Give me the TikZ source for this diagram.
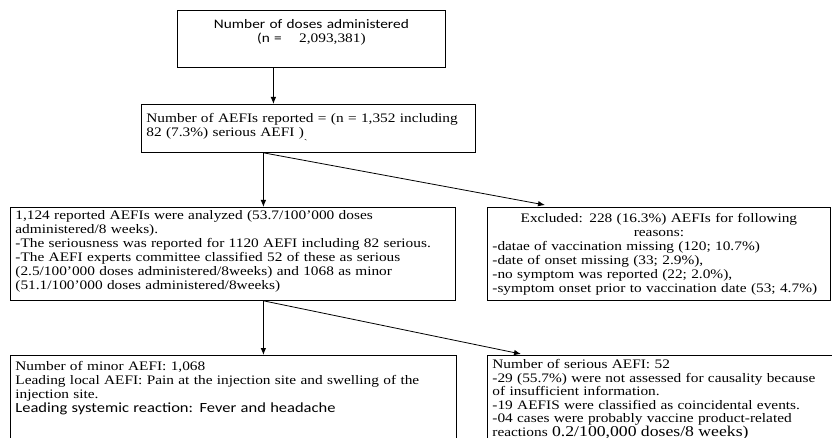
\documentclass[tikz,border=0pt]{standalone}
\usepackage{fontspec}
\setmainfont{Liberation Serif}[FakeStretch=1.18]
\newfontfamily\calibri{Carlito}[FakeStretch=1.18]
\usetikzlibrary{arrows.meta}

\begin{document}
\begin{tikzpicture}[x=1pt,y=-1pt,
  box/.style={draw, line width=0.8pt, anchor=north west, align=left,
    inner xsep=5pt, inner ysep=0pt, font=\fontsize{13}{14}\selectfont},
  arr/.style={-{Latex[length=7pt,width=5.5pt]}, line width=0.8pt}]
  \useasboundingbox (0,0) rectangle (832,438);
  \clip (0,0) rectangle (832,438);

  \node[box, align=center, text width=258pt, text height=18pt, text depth=39pt,
    font=\calibri\fontsize{13}{14}\selectfont] (doses) at (177,10)
    {Number of doses administered\\(n = \quad{\rmfamily 2,093,381)}};

  \node[box, text width=324pt, text height=18pt, text depth=30pt] (reported) at (141,104)
    {Number of AEFIs reported = (n = 1,352 including\\82 (7.3\%) serious AEFI )};
  \node[font=\small, inner sep=0pt] (tick) at (306,143) {\`{}};

  \node[box, text width=435pt, text height=12pt, text depth=81pt] (analyzed) at (10,207)
    {1,124 reported AEFIs were analyzed (53.7/100'000 doses\\
     administered/8 weeks).\\
     -The seriousness was reported for 1120 AEFI including 82 serious.\\
     -The AEFI experts committee classified 52 of these as serious\\
     (2.5/100'000 doses administered/8weeks) and 1068 as minor\\
     (51.1/100'000 doses administered/8weeks)};

  \node[box, inner xsep=3pt, text width=337pt, text height=15pt, text depth=78pt] (excluded) at (487,207)
    {\hfil Excluded: 228 (16.3\%) AEFIs for following\hspace{55pt}\\
     \hfil reasons:\hspace{55pt}\\
     \hspace*{2pt}-datae of vaccination missing (120; 10.7\%)\\
     \hspace*{2pt}-date of onset missing (33; 2.9\%),\\
     \hspace*{2pt}-no symptom was reported (22; 2.0\%),\\
     \hspace*{2pt}-symptom onset prior to vaccination date (53; 4.7\%)};

  \node[box, text width=436pt, text height=15pt, text depth=100pt] (minor) at (10,355)
    {Number of minor AEFI: 1,068\\
     Leading local AEFI: Pain at the injection site and swelling of the\\
     injection site.\\
     {\calibri\fontsize{14}{14}\selectfont Leading systemic reaction: Fever and headache}};

  \node[box, text width=350pt, text height=13pt, text depth=100pt,
    font=\fontsize{13}{13.6}\selectfont] (serious) at (487,355)
    {Number of serious AEFI: 52\\
     -29 (55.7\%) were not assessed for causality because\\
     of insufficient information.\\
     -19 AEFIS were classified as coincidental events.\\
     -04 cases were probably vaccine product-related\\
     reactions {\fontsize{15}{13.6}\selectfont 0.2/100,000 doses/8 weeks)}};

  \coordinate (split1) at ([xshift=-45pt]reported.south);
  \coordinate (split2) at ([xshift=30.5pt]analyzed.south);

  \draw[arr] ([xshift=-38pt]doses.south) -- ([xshift=-38pt]doses.south |- reported.north);
  \draw[arr] (split1) -- (split1 |- analyzed.north);
  \draw[arr] (split1) -- ([shift={(58,-2)}]excluded.north west);
  \draw[arr] (split2) -- (split2 |- minor.north);
  \draw[arr] (split2) -- ([shift={(34,-1)}]serious.north west);

\end{tikzpicture}
\end{document}
